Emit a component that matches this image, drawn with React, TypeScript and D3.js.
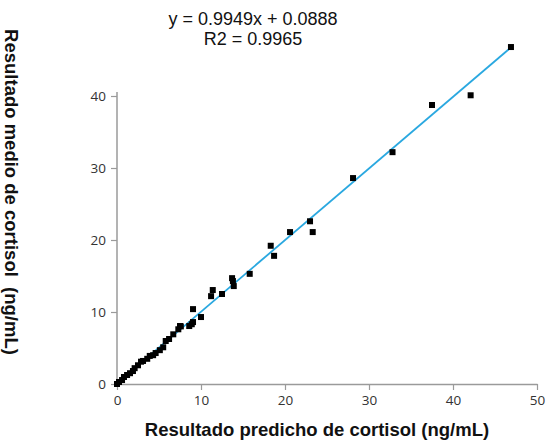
import React, { useRef, useEffect } from 'react';
import * as d3 from 'd3';

const predicted = [
  0, 0.24, 0.6, 0.83, 1.2, 1.55, 1.9, 2.1, 2.5, 2.86, 3.1, 3.6, 3.9, 4.3, 4.6, 5.1, 5.5,
  5.8, 6.2, 6.7, 7.3, 7.5, 7.6, 8.6, 8.9, 9.05, 9.05, 10.0, 11.2, 11.4, 12.5, 13.7, 13.8,
  13.9, 15.8, 18.3, 18.7, 20.6, 22.98, 23.3, 28.1, 32.8, 37.5, 42.1, 46.9,
];
const measured = [
  0, 0.28, 0.55, 0.97, 1.25, 1.5, 1.8, 2.2, 2.6, 3.1, 3.2, 3.5, 3.9, 4.0, 4.3, 4.7, 5.1,
  5.97, 6.25, 6.9, 7.6, 8.05, 8.0, 8.05, 8.3, 8.6, 10.4, 9.3, 12.2, 13.05, 12.5, 14.7, 14.3,
  13.6, 15.3, 19.2, 17.8, 21.1, 22.6, 21.1, 28.6, 32.2, 38.75, 40.1, 46.8,
];
const xTicks = [0, 10, 20, 30, 40, 50];
const yTicks = [0, 10, 20, 30, 40];
const slope = 0.9949;
const intercept = 0.0888;
const equationLines = ['y = 0.9949x + 0.0888', 'R2 = 0.9965'];
const xLabel = 'Resultado predicho de cortisol (ng/mL)';
const yLabel = 'Resultado medio de cortisol  (ng/mL)';

const App = () => {
  const svgRef = useRef<SVGSVGElement>(null);

  useEffect(() => {
    const svg = d3.select(svgRef.current);
    svg.selectAll('*').remove();

    const width = 546;
    const height = 440;
    const left = 117;
    const right = 537;
    const bottom = 384;
    const top = 96;

    const x = d3.scaleLinear().domain([0, 50]).range([left, right]);
    const y = d3.scaleLinear().domain([0, 40]).range([bottom, top]);

    const tickFont = '"Open Sans", sans-serif';
    const labelFont = '"Liberation Sans", Arial, sans-serif';

    // x axis
    const gx = svg.append('g')
      .attr('transform', `translate(0,${bottom})`)
      .call(d3.axisBottom(x).tickValues(xTicks).tickSize(6).tickSizeOuter(0).tickPadding(5));
    gx.select('.domain').attr('stroke', '#9a9a9a').attr('stroke-width', 1.5);
    gx.selectAll('.tick line').attr('stroke', '#9a9a9a').attr('stroke-width', 1.2);
    gx.selectAll('.tick text')
      .attr('fill', '#333')
      .style('font-family', tickFont)
      .style('font-size', '13.5px');

    // y axis
    const gy = svg.append('g')
      .attr('transform', `translate(${left},0)`)
      .call(d3.axisLeft(y).tickValues(yTicks).tickSize(6).tickSizeOuter(0).tickPadding(5));
    gy.select('.domain')
      .attr('d', `M0,${bottom}V${top - 4}`)
      .attr('stroke', '#9a9a9a').attr('stroke-width', 1.5);
    gy.selectAll('.tick line').attr('stroke', '#9a9a9a').attr('stroke-width', 1.2);
    gy.selectAll('.tick text')
      .attr('fill', '#333')
      .style('font-family', tickFont)
      .style('font-size', '13.5px');

    // regression line
    const xMax = d3.max(predicted) as number;
    svg.append('line')
      .attr('x1', x(0)).attr('y1', y(intercept))
      .attr('x2', x(xMax)).attr('y2', y(slope * xMax + intercept))
      .attr('stroke', '#2aa8e0')
      .attr('stroke-width', 1.8);

    // points
    const size = 6;
    svg.append('g')
      .selectAll('rect')
      .data(predicted.map((p, i) => [p, measured[i]]))
      .join('rect')
      .attr('x', d => x(d[0]) - size / 2)
      .attr('y', d => y(d[1]) - size / 2)
      .attr('width', size)
      .attr('height', size)
      .attr('fill', '#000');

    // equation
    svg.append('g')
      .selectAll('text')
      .data(equationLines)
      .join('text')
      .attr('x', 253)
      .attr('y', (d, i) => 25 + i * 20)
      .attr('text-anchor', 'middle')
      .style('font-family', labelFont)
      .style('font-size', '18px')
      .attr('fill', '#111')
      .text(d => d);

    // axis titles
    svg.append('text')
      .attr('x', 317)
      .attr('y', height - 4)
      .attr('text-anchor', 'middle')
      .style('font-family', labelFont)
      .style('font-size', '18.5px')
      .style('font-weight', 'bold')
      .attr('fill', '#111')
      .text(xLabel);

    svg.append('text')
      .attr('transform', `translate(5,${192}) rotate(90)`)
      .attr('text-anchor', 'middle')
      .style('font-family', labelFont)
      .style('font-size', '18.5px')
      .style('font-weight', 'bold')
      .style('white-space', 'pre')
      .attr('fill', '#111')
      .text(yLabel);

    svg.attr('width', width).attr('height', height);
  }, []);

  return (
    <svg ref={svgRef} width={546} height={440}
      style={{ position: 'absolute', left: 0, top: 0, background: '#fff' }} />
  );
};

export default App;
